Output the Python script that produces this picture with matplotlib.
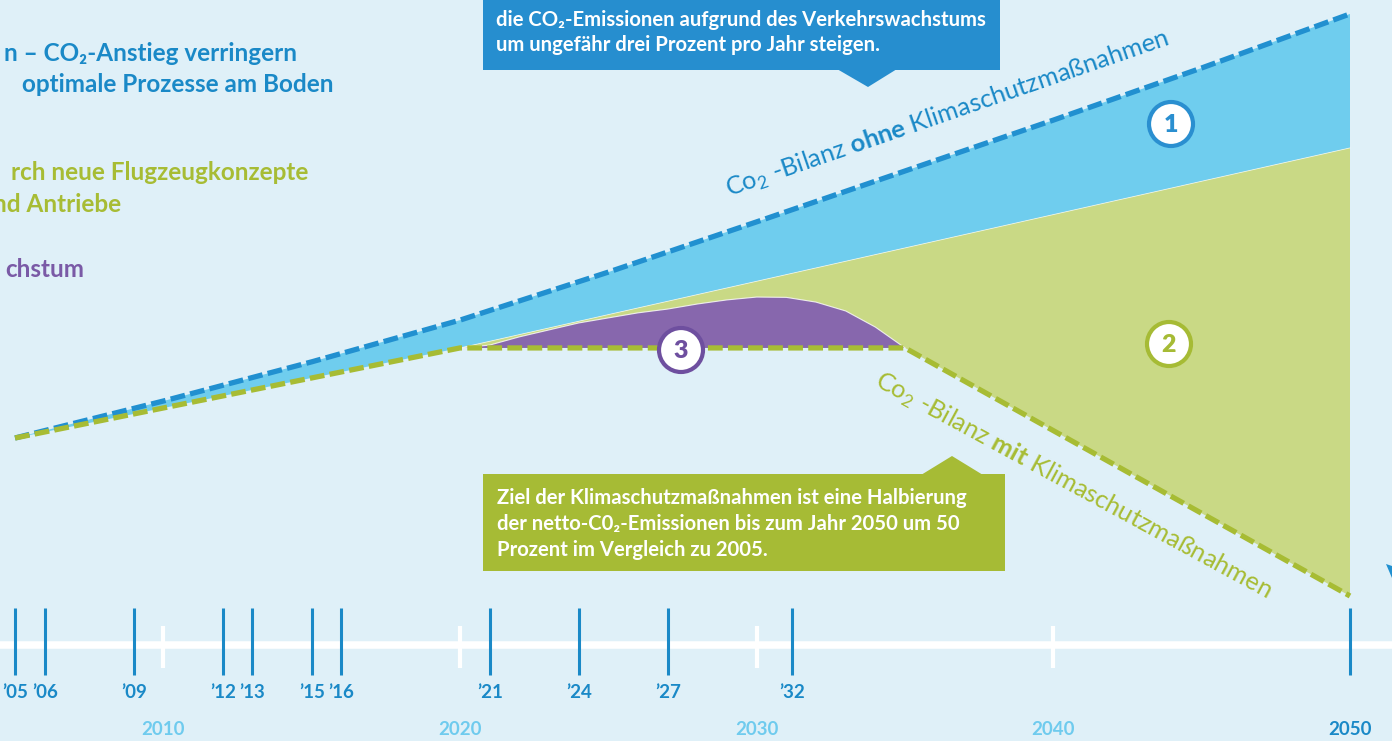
import numpy as np
import matplotlib.pyplot as plt
from matplotlib.patches import Circle, Polygon, Rectangle

plt.rcParams['mathtext.fontset'] = 'custom'
plt.rcParams['mathtext.rm'] = 'Lato'
plt.rcParams['mathtext.bf'] = 'Lato:bold'

# CO2 index, 2005 = 100
years_ohne = [2005, 2010, 2015, 2020, 2025, 2030, 2035, 2040, 2045, 2050]
co2_ohne = [100, 111.7, 124.1, 137.3, 152.5, 168.4, 184.5, 200.6, 217.1, 234.2]

years_mit = [2005, 2020, 2035, 2050]
co2_mit = [100, 128.5, 128.5, 50]

# upper edge of area 2 (new aircraft / engines)
years_tech = [2020, 2050]
co2_tech = [128.5, 191.8]

# upper edge of area 3 (growth)
years_growth = list(range(2020, 2036))
co2_growth = [128.5, 129.4, 132.0, 134.2, 136.4, 138.0, 139.6, 140.8,
              142.4, 143.7, 144.6, 144.5, 143.0, 140.2, 135.1, 128.5]

# timeline marks (the '32 mark sits a bit left of 2032 in the original)
event_years = [2005, 2006, 2009, 2012, 2013, 2015, 2016, 2021, 2024, 2027, 2031.2, 2050]
event_labels = ["’05", "’06", "’09", "’12", "’13", "’15", "’16", "’21", "’24", "’27", "’32", ""]
decades = [2010, 2020, 2030, 2040]
decade_labels = ["2010", "2020", "2030", "2040", "2050"]

# colours
bg = '#dff0f8'
c_blue = '#2190d0'
c_blue_txt = '#1a89c7'
c_lightblue = '#6fcdee'
c_green = '#a7bc34'
c_lightgreen = '#c9d985'
c_purple = '#8767ad'
c_purple_dark = '#6e4f9f'
fam = ['Lato', 'DejaVu Sans']

fig = plt.figure(figsize=(13.92, 7.41), dpi=100, facecolor=bg)
ax = fig.add_axes([0, 0, 1, 1])
ax.set_facecolor(bg)
ax.set_xlim(2004.494, 2051.416)
ax.set_ylim(4.11, 238.61)
ax.axis('off')

# areas
blue_x = years_ohne + years_tech[::-1] + years_mit[1::-1]
blue_y = co2_ohne + co2_tech[::-1] + co2_mit[1::-1]
ax.fill(blue_x, blue_y, color=c_lightblue, lw=0, zorder=1)

green_x = years_tech + years_mit[:0:-1]
green_y = co2_tech + co2_mit[:0:-1]
ax.fill(green_x, green_y, color=c_lightgreen, lw=0, zorder=2)
ax.plot(years_tech, co2_tech, color='white', lw=0.6, alpha=0.7, zorder=2)

ax.fill(years_growth, co2_growth, color=c_purple, lw=0, zorder=3)
ax.plot(years_growth, co2_growth, color='white', lw=0.8, alpha=0.8, zorder=3)

# dashed balance lines
ax.plot(years_ohne, co2_ohne, color=c_blue, lw=3.8, ls=(0, (2.8, 1.0)),
        dash_capstyle='butt', zorder=5)
ax.plot(years_mit, co2_mit, color=c_green, lw=3.8, ls=(0, (2.8, 1.0)),
        dash_capstyle='butt', zorder=6)

# timeline
xt = ax.get_xaxis_transform()
ax.plot([0, 1], [0.1296, 0.1296], transform=ax.transAxes, color='white', lw=5.4, zorder=4)
ax.vlines(decades, 0.0985, 0.1552, transform=xt, color='white', lw=3.0, zorder=4)
ax.vlines(event_years, 0.0891, 0.1795, transform=xt, color=c_blue_txt, lw=2.2, zorder=5)
for yr, lab in zip(event_years, event_labels):
    ax.text(yr, 0.0655, lab, transform=xt, ha='center', va='center',
            fontsize=13.5, fontweight='bold', family=fam, color=c_blue_txt)
for yr, lab in zip(decades + [2050], decade_labels):
    col = c_blue_txt if lab == "2050" else '#6fcbee'
    ax.text(yr, 0.0155, lab, transform=xt, ha='center', va='center',
            fontsize=13.5, fontweight='bold', family=fam, color=col)

# overlay in pixel coordinates for the annotations
ov = fig.add_axes([0, 0, 1, 1], zorder=10)
ov.set_xlim(0, 1392)
ov.set_ylim(741, 0)
ov.axis('off')
ov.patch.set_alpha(0)

# cut-off legend on the left (the picture is a crop, so the lines start mid-word)
legend_lines = [(297, 61, "n – CO₂-Anstieg verringern", c_blue_txt),
                (333, 92, "optimale Prozesse am Boden", c_blue_txt),
                (308, 180, "rch neue Flugzeugkonzepte", c_green),
                (121, 212, "nd Antriebe", c_green),
                (84, 277, "chstum", '#7a5aa6')]
for x, y, s, col in legend_lines:
    ov.text(x, y, s, ha='right', va='baseline', fontsize=17.5,
            fontweight='bold', family=fam, color=col)

# blue call-out box
ov.add_patch(Rectangle((483, -10), 517, 80, color='#268ecf', lw=0, zorder=1))
ov.add_patch(Polygon([(837, 69), (897, 69), (868, 87)], color='#268ecf', lw=0, zorder=1))
ov.text(496, 26, "die CO₂-Emissionen aufgrund des Verkehrswachstums", va='baseline',
        fontsize=14.6, fontweight='bold', family=fam, color='white', zorder=2)
ov.text(496, 51, "um ungefähr drei Prozent pro Jahr steigen.", va='baseline',
        fontsize=14.6, fontweight='bold', family=fam, color='white', zorder=2)

# green call-out box
ov.add_patch(Rectangle((483, 474), 522, 97, color='#a6bb35', lw=0, zorder=1))
ov.add_patch(Polygon([(921, 475), (983, 475), (952, 456)], color='#a6bb35', lw=0, zorder=1))
green_lines = ["Ziel der Klimaschutzmaßnahmen ist eine Halbierung",
               "der netto-C0₂-Emissionen bis zum Jahr 2050 um 50",
               "Prozent im Vergleich zu 2005."]
for i, line in enumerate(green_lines):
    ov.text(497, 504 + 26 * i, line, va='baseline', fontsize=14.6,
            fontweight='bold', family=fam, color='white', zorder=2)

# labels along the lines
ov.text(729, 197, r"Co$_2$ -Bilanz $\mathbf{ohne}$ Klimaschutzmaßnahmen",
        rotation=19, rotation_mode='anchor', ha='left', va='baseline',
        fontsize=18.3, fontweight='normal', family='Lato', color=c_blue_txt)
ov.text(873, 386, r"Co$_2$ -Bilanz $\mathbf{mit}$ Klimaschutzmaßnahmen",
        rotation=-28.5, rotation_mode='anchor', ha='left', va='baseline',
        fontsize=18.3, fontweight='normal', family='Lato', color=c_green)

# numbered circles
for (cx, cy, col, num) in [(1171, 124, '#2a8fd0', '1'),
                           (1169, 344, '#a6bb35', '2'),
                           (681, 350, c_purple_dark, '3')]:
    ov.add_patch(Circle((cx, cy), 22, facecolor='white', edgecolor=col, lw=3.0, zorder=5))
    ov.text(cx, cy + 1, num, ha='center', va='center', fontsize=18,
            fontweight='heavy', family=fam, color=col, zorder=6)

# fragment of an arrow at the right edge
ov.add_patch(Polygon([(1386, 564), (1392, 566), (1392, 578)], color=c_blue, lw=0))

fig.savefig('out.png', dpi=100, facecolor=bg)
